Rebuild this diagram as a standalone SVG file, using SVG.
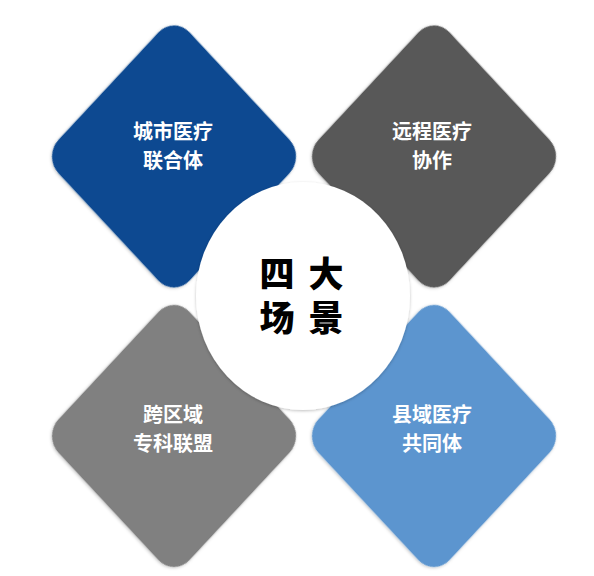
<svg xmlns="http://www.w3.org/2000/svg" width="594" height="576" viewBox="0 0 594 576">
  <defs>
    <filter id="shadow" x="-20%" y="-20%" width="140%" height="140%">
      <feDropShadow dx="0" dy="1" stdDeviation="1.5" flood-color="#000" flood-opacity="0.25"/>
    </filter>
    <rect id="tile" x="-92.7" y="-92.7" width="185.4" height="185.4" rx="22" ry="22"/>
  </defs>
  <style>
    .lbl { font-family: "Noto Sans CJK SC", "Noto Sans CJK TC", sans-serif; font-size: 20px; font-weight: 700; fill: #ffffff; text-anchor: middle; }
    .ctr { font-family: "Noto Sans CJK SC", "Noto Sans CJK TC", sans-serif; font-size: 35px; font-weight: 900; fill: #000000; text-anchor: middle; }
  </style>
  <rect width="594" height="576" fill="#ffffff"/>
  <g id="connectors"/>
  <g id="node-city">
    <use href="#tile" fill="#0d4a91" filter="url(#shadow)" transform="translate(174,156.5) scale(1,1.074) rotate(45)"/>
    <text class="lbl" x="173" y="139">城市医疗</text>
    <text class="lbl" x="173" y="168">联合体</text>
  </g>
  <g id="node-remote">
    <use href="#tile" fill="#595959" filter="url(#shadow)" transform="translate(434,156.5) scale(1,1.074) rotate(45)"/>
    <text class="lbl" x="432" y="139">远程医疗</text>
    <text class="lbl" x="432" y="168">协作</text>
  </g>
  <g id="node-cross">
    <use href="#tile" fill="#808080" filter="url(#shadow)" transform="translate(174,436) scale(1,1.074) rotate(45)"/>
    <text class="lbl" x="173" y="422">跨区域</text>
    <text class="lbl" x="173" y="451">专科联盟</text>
  </g>
  <g id="node-county">
    <use href="#tile" fill="#5b95cf" filter="url(#shadow)" transform="translate(434,436) scale(1,1.074) rotate(45)"/>
    <text class="lbl" x="432" y="422">县域医疗</text>
    <text class="lbl" x="432" y="451">共同体</text>
  </g>
  <g id="node-center">
    <ellipse cx="303" cy="296" rx="107" ry="114" fill="#ffffff" filter="url(#shadow)"/>
    <text class="ctr"><tspan x="277" y="287">四</tspan><tspan x="326" y="287">大</tspan></text>
    <text class="ctr"><tspan x="277" y="331">场</tspan><tspan x="326" y="331">景</tspan></text>
  </g>
</svg>
